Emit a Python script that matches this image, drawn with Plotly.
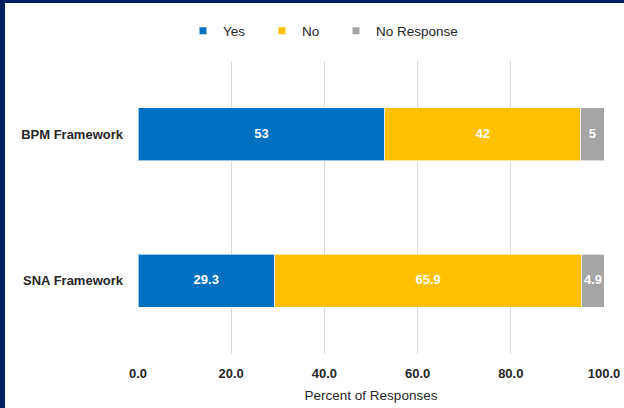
import plotly.graph_objects as go

categories = ["BPM Framework", "SNA Framework"]
yes_vals = [53, 29.3]
no_vals = [42, 65.9]
nr_vals = [5, 4.9]
x_ticks = [0, 20, 40, 60, 80, 100]
x_tick_labels = ["0.0", "20.0", "40.0", "60.0", "80.0", "100.0"]

series = [("Yes", yes_vals, "#0070C0"), ("No", no_vals, "#FFC000"), ("No Response", nr_vals, "#A5A5A5")]

FONT = "Liberation Sans, Arial, sans-serif"
fig = go.Figure()
for name, vals, col in series:
    fig.add_trace(go.Bar(
        y=categories, x=vals, orientation="h", name=name,
        marker=dict(color=col, line=dict(color="rgba(255,255,255,0.6)", width=1)),
        showlegend=False, hoverinfo="x+name",
    ))

# value labels centred in each segment (positions derived from the data)
lab_x, lab_y, lab_t = [], [], []
for i, cat in enumerate(categories):
    base = 0.0
    for name, vals, col in series:
        lab_x.append(base + vals[i] / 2)
        lab_y.append(cat)
        lab_t.append(str(vals[i]))
        base += vals[i]
fig.add_trace(go.Scatter(
    x=lab_x, y=lab_y, text=lab_t, mode="text", showlegend=False, hoverinfo="skip",
    textfont=dict(color="white", size=13, family=FONT, weight="bold"), cliponaxis=False,
))

legend_ids = ["legend", "legend2", "legend3"]
for (name, vals, col), lid in zip(series, legend_ids):
    fig.add_trace(go.Scatter(
        x=[None], y=[None], mode="markers", name=name, legend=lid,
        marker=dict(symbol="square", size=7, color=col), showlegend=True,
    ))

L, R, T, B = 138, 20, 61, 54
W, H = 624, 408
pw, ph = W - L - R, H - T - B

def leg(xpix):
    return dict(orientation="h", x=(xpix - L) / pw, xanchor="left", y=1 + 30 / ph, yanchor="middle",
                font=dict(size=13.5, color="#262626"), itemwidth=30, bgcolor="rgba(0,0,0,0)")

legend_x_px = [183, 262, 336]
fig.update_layout(
    width=W, height=H,
    margin=dict(l=L, r=R, t=T, b=B, autoexpand=False),
    paper_bgcolor="white", plot_bgcolor="white",
    barmode="stack", bargap=0.64,
    font=dict(family=FONT, color="#262626"),
    legend=leg(legend_x_px[0]), legend2=leg(legend_x_px[1]), legend3=leg(legend_x_px[2]),
    xaxis=dict(range=[0, 100], tickvals=x_ticks, ticktext=x_tick_labels, automargin=False,
               showgrid=True, gridcolor="#D9D9D9", gridwidth=1, zeroline=False,
               showline=False, ticks="", ticklabelstandoff=10,
               tickfont=dict(size=13, color="#262626", weight="bold"),
               title=dict(text="Percent of Responses", font=dict(size=13.5, color="#262626"), standoff=10)),
    yaxis=dict(categoryorder="array", categoryarray=categories[::-1], range=[-0.5, 1.5],
               automargin=False,
               showgrid=False, zeroline=False, showline=False, ticks="",
               ticklabelstandoff=14,
               tickfont=dict(size=13, color="#262626", weight="bold")),
    shapes=[
        dict(type="rect", xref="paper", yref="paper", layer="above",
             x0=-(L + 5) / pw, x1=-(L - 5) / pw, y0=-(B + 5) / ph, y1=1 + (T + 5) / ph,
             fillcolor="#002060", line=dict(width=0)),
        dict(type="rect", xref="paper", yref="paper", layer="above",
             x0=-(L + 5) / pw, x1=1 + (R + 5) / pw, y0=1 + (T - 3) / ph, y1=1 + (T + 5) / ph,
             fillcolor="#002060", line=dict(width=0)),
    ],
)
fig.write_html("out.html")
